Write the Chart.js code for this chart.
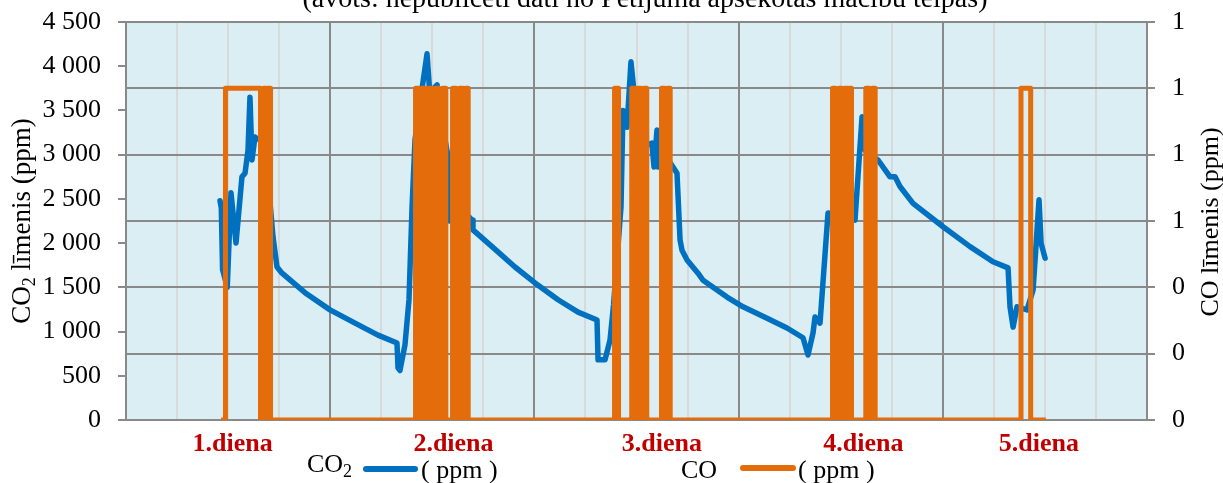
<!DOCTYPE html>
<html>
<head>
<meta charset="utf-8">
<script src="https://cdn.jsdelivr.net/npm/chart.js@4"></script>
<style>
  html, body { margin: 0; padding: 0; background: #fff; }
  canvas { display: block; }
</style>
</head>
<body>
<canvas id="chart" width="1223" height="483"></canvas>
<script>
// CO2 readings: hours from the start of day 1, ppm
const co2Hours = [11.05, 11.2, 11.35, 11.9, 12.34, 12.93, 13.63, 13.99, 14.34, 14.57, 14.81, 15.16, 15.4, 16.3,
  17.28, 17.75, 18.34, 21.04, 23.98, 26.92, 29.62, 31.85, 31.97, 32.2, 32.79, 33.26, 33.62, 33.97, 34.8,
  35.38, 35.7, 36.56, 37.26, 37.9, 38.0, 39.3, 40.67, 40.78, 43.02, 45.72, 48.07, 50.78, 53.13, 55.36,
  55.48, 56.3, 56.89, 57.3, 58.18, 58.41, 58.88, 59.35, 59.82, 61.0, 61.82, 62.06, 62.41, 62.53, 63.35,
  64.29, 64.76, 65.12, 65.35, 65.94, 67.23, 67.82, 70.64, 72.52, 75.34, 77.69, 79.57, 80.16, 80.75,
  80.98, 81.57, 82.51, 84.2, 85.68, 86.51, 86.86, 87.45, 88.39, 89.8, 90.39, 90.97, 92.5, 96.03, 99.2,
  101.9, 103.67, 103.9, 104.26, 104.72, 105.9, 106.61, 107.31, 107.55, 108.02];
const co2Ppm = [2480, 2400, 1700, 1500, 2570, 2000, 2750, 2790, 3050, 3650, 2940, 3200, 3180, 3150,
  2070, 1730, 1660, 1440, 1245, 1095, 960, 870, 590, 560, 850, 1360, 2410, 3170, 3750,
  4140, 3700, 3790, 3300, 2950, 2250, 2400, 2260, 2150, 1960, 1730, 1550, 1360, 1220, 1130,
  680, 680, 905, 1300, 2410, 3500, 3310, 4050, 3600, 3100, 3130, 2860, 3280, 2860, 3000,
  2860, 2790, 2035, 1920, 1810, 1660, 1580, 1390, 1280, 1150, 1040, 930, 735, 985,
  1165, 1095, 2340, 2300, 2260, 3430, 3050, 3000, 2940, 2750, 2750, 2640, 2450, 2185, 1960,
  1790, 1720, 1280, 1050, 1280, 1245, 1470, 2490, 2000, 1830];

// CO readings: hours where the value changes, and the new value
const coHours = [11.17, 11.69, 15.81, 16.2, 16.4, 16.6, 16.99,
  34.03, 34.4, 34.8, 35.2, 35.6, 36.0, 36.4, 36.8, 37.2, 37.59, 38.38, 38.8, 39.2, 39.6, 39.9, 40.22,
  57.42, 57.89, 59.44, 59.8, 60.15, 60.5, 60.85, 61.21, 62.94, 63.3, 63.6, 63.96,
  83.04, 83.4, 83.8, 84.15, 84.5, 84.9, 85.1, 85.27, 86.95, 87.35, 87.7, 88.05,
  105.19, 106.33, 108.1];
const coValues = [0, 1, 0, 1, 0, 1, 0,
  1, 0, 1, 0, 1, 0, 1, 0, 1, 0, 1, 0, 1, 0, 1, 0,
  1, 0, 1, 0, 1, 0, 1, 0, 1, 0, 1, 0,
  1, 0, 1, 0, 1, 0, 1, 0, 1, 0, 1, 0,
  1, 0, 0];

const dayHours = [12.54, 38.49, 62.98, 86.67, 107.3];
const dayLabels = ['1.diena', '2.diena', '3.diena', '4.diena', '5.diena'];
const co2TickLabels = ['0', '500', '1 000', '1 500', '2 000', '2 500', '3 000', '3 500', '4 000', '4 500'];
const coTickLabels = ['0', '0', '0', '1', '1', '1', '1'];
const titleText = '(avots: nepublicēti dati no Pētījuma apsekotās mācību telpas)';

const FONT = '"Liberation Serif", "Times New Roman", serif';
const BLUE = '#0070C0';
const ORANGE = '#E46C0A';
const GRID_DARK = '#898989';
const GRID_LIGHT = '#D9D9D9';

// text pieces: [text, size, baseline shift]
function drawPieces(ctx, pieces, x, y) {
  let cx = x;
  pieces.forEach(p => {
    ctx.font = p[1] + 'px ' + FONT;
    ctx.fillText(p[0], cx, y + p[2]);
    cx += ctx.measureText(p[0]).width;
  });
  return cx;
}

function piecesWidth(ctx, pieces) {
  let w = 0;
  pieces.forEach(p => {
    ctx.font = p[1] + 'px ' + FONT;
    w += ctx.measureText(p[0]).width;
  });
  return w;
}

function drawRotated(ctx, pieces, x, y) {
  ctx.save();
  ctx.translate(x, y);
  ctx.rotate(-Math.PI / 2);
  drawPieces(ctx, pieces, -piecesWidth(ctx, pieces) / 2, 0);
  ctx.restore();
}

function legendLine(ctx, color, x1, x2, y) {
  ctx.save();
  ctx.strokeStyle = color;
  ctx.lineWidth = 6;
  ctx.lineCap = 'round';
  ctx.beginPath();
  ctx.moveTo(x1, y);
  ctx.lineTo(x2, y);
  ctx.stroke();
  ctx.restore();
}

const decorations = {
  id: 'decorations',
  beforeDraw(chart) {
    const { ctx, chartArea: a } = chart;
    ctx.save();
    ctx.fillStyle = '#fff';
    ctx.fillRect(0, 0, chart.width, chart.height);
    ctx.fillStyle = '#DBEEF4';
    ctx.fillRect(a.left, a.top, a.right - a.left, a.bottom - a.top);
    ctx.restore();
  },
  afterDraw(chart) {
    const ctx = chart.ctx;
    ctx.save();
    ctx.fillStyle = '#000';
    ctx.textBaseline = 'alphabetic';

    ctx.textAlign = 'center';
    ctx.font = '28px ' + FONT;
    ctx.fillText(titleText, 645, 7);

    ctx.textAlign = 'left';
    drawRotated(ctx, [['CO', 27, 0], ['2', 18, 5], [' līmenis (ppm)', 27, 0]], 30, 221);
    drawRotated(ctx, [['CO līmenis (ppm)', 26, 0]], 1218, 222);

    // legend
    drawPieces(ctx, [['CO', 26, 0], ['2', 18, 5]], 307, 472);
    legendLine(ctx, BLUE, 366, 415, 469);
    drawPieces(ctx, [['( ppm )', 26, 0]], 421, 478);
    drawPieces(ctx, [['CO', 26, 0]], 681, 478);
    legendLine(ctx, ORANGE, 743, 793, 468);
    drawPieces(ctx, [['( ppm )', 26, 0]], 798, 478);
    ctx.restore();
  }
};

function fixVertical(width) {
  return function (s) {
    s.width = width;
    s.paddingTop = 0;
    s.paddingBottom = 0;
  };
}

new Chart(document.getElementById('chart'), {
  type: 'line',
  data: {
    datasets: [
      {
        label: 'CO',
        data: coHours.map((h, i) => ({ x: h, y: coValues[i] })),
        yAxisID: 'yCO',
        borderColor: ORANGE,
        borderWidth: 5,
        stepped: true,
        pointRadius: 0,
        borderJoinStyle: 'round',
        order: 0
      },
      {
        label: 'CO2',
        data: co2Hours.map((h, i) => ({ x: h, y: co2Ppm[i] })),
        yAxisID: 'y',
        borderColor: BLUE,
        borderWidth: 5.5,
        tension: 0,
        pointRadius: 0,
        borderJoinStyle: 'round',
        borderCapStyle: 'round',
        order: 1
      }
    ]
  },
  options: {
    responsive: false,
    animation: false,
    devicePixelRatio: 1,
    events: [],
    layout: { padding: { top: 22, left: 0, right: 0, bottom: 0 } },
    plugins: { legend: { display: false }, tooltip: { enabled: false } },
    scales: {
      x: {
        type: 'linear',
        min: 0,
        max: 120,
        afterFit(s) { s.height = 63; },
        afterBuildTicks(s) {
          s.ticks = s.ticks.concat(dayHours.map(v => ({ value: v })))
            .sort((p, q) => p.value - q.value);
        },
        ticks: {
          stepSize: 6,
          autoSkip: false,
          maxRotation: 0,
          minRotation: 0,
          padding: 9,
          color: '#C00000',
          font: { family: FONT, size: 26, weight: 'bold' },
          callback(value) {
            const i = dayHours.indexOf(value);
            return i >= 0 ? dayLabels[i] : '';
          }
        },
        grid: {
          drawTicks: false,
          lineWidth: 2,
          color(c) {
            const v = c.tick ? c.tick.value : 0;
            if (dayHours.includes(v)) return 'rgba(0,0,0,0)';
            return v % 24 === 0 ? GRID_DARK : GRID_LIGHT;
          }
        },
        border: { display: false }
      },
      y: {
        position: 'left',
        min: 0,
        max: 4500,
        afterFit: fixVertical(126),
        ticks: {
          stepSize: 500,
          padding: 17,
          color: '#000',
          font: { family: FONT, size: 26 },
          callback(value, i) { return co2TickLabels[i]; }
        },
        grid: { drawOnChartArea: false, drawTicks: true, tickLength: 8, color: GRID_DARK, lineWidth: 2 },
        border: { color: GRID_DARK, width: 2 }
      },
      yCO: {
        position: 'right',
        min: 0,
        max: 1.2,
        afterFit: fixVertical(76),
        ticks: {
          stepSize: 0.2,
          padding: 17,
          color: '#000',
          font: { family: FONT, size: 26 },
          callback(value, i) { return coTickLabels[i]; }
        },
        grid: { drawOnChartArea: true, drawTicks: true, tickLength: 8, color: GRID_DARK, lineWidth: 2 },
        border: { color: GRID_DARK, width: 2 }
      }
    }
  },
  plugins: [decorations]
});
</script>
</body>
</html>
